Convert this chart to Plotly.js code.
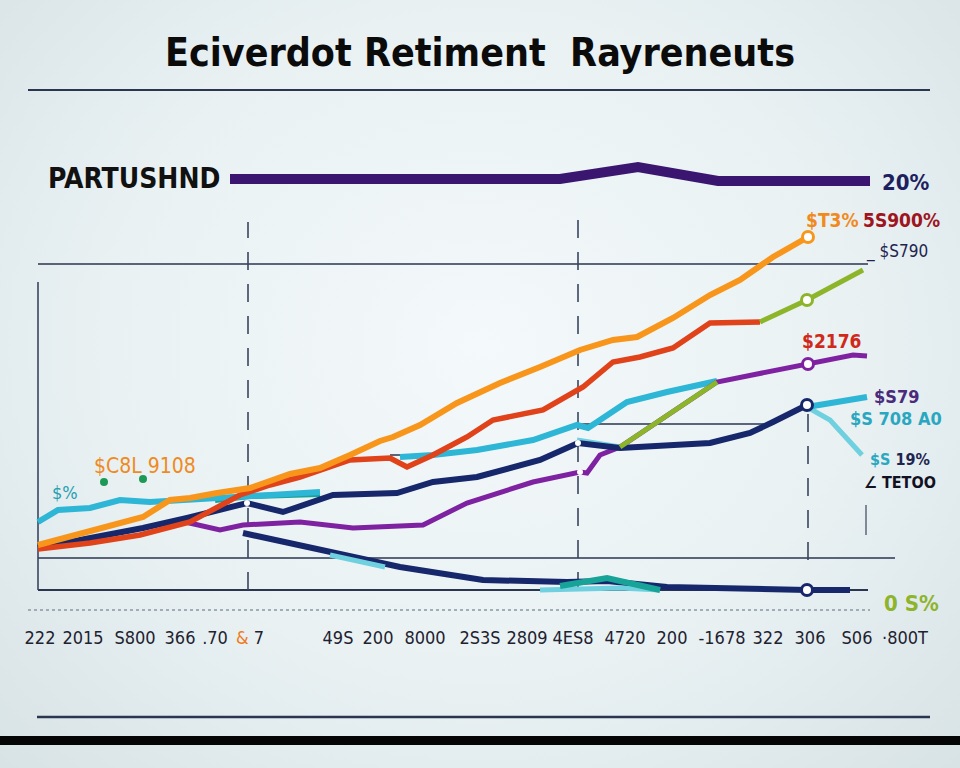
<!DOCTYPE html>
<html><head><meta charset="utf-8">
<script src="https://cdn.plot.ly/plotly-3.0.1.min.js"></script>
<style>
html,body{margin:0;padding:0;}
body{width:960px;height:768px;overflow:hidden;background:radial-gradient(ellipse at 50% 45%, #f4f9fb 0%, #e9f1f3 55%, #d8e3e5 100%);}
#chart{width:960px;height:768px;}
</style></head><body><div id="chart"></div>
<script>
// ---- data (x: period position, y: value) ----
const tickVals = [4.0, 8.3, 13.5, 18.0, 21.5, 25.0, 33.8, 37.8, 42.5, 48.0, 52.7, 57.3, 62.5, 67.2, 72.2, 76.8, 81.0, 85.7, 90.5];
const tickText = ["222", "2015", "S800", "366", ".70", "<span style='color:#f07a20'>&amp;</span> 7", "49S", "200", "8000", "2S3S", "2809", "4ES8", "4720", "200", "-1678", "322", "306", "S06", "·800T"];

const orangeX = [3.8, 10, 14.3, 17, 19, 21.7, 25, 29, 32, 35, 38, 39.3, 42, 45.7, 50, 54, 58, 61.3, 63.7, 67.3, 71, 74, 77.3, 80.8];
const orangeY = [11.25, 15.5, 18.25, 22.5, 23, 24.25, 25.5, 29, 30.5, 33.75, 37.25, 38.25, 41.25, 46.75, 51.75, 55.75, 60, 62.5, 63.25, 68, 73.75, 77.5, 83.25, 88.25];

const redX = [3.8, 9, 14, 19, 24, 27, 30, 35, 39, 40.7, 43.3, 46.7, 49.3, 54.3, 58.3, 61.3, 64, 67.3, 71, 76];
const redY = [10.25, 11.75, 13.75, 17, 23.75, 26.25, 28.25, 32.5, 33, 30.75, 33.75, 38.25, 42.5, 45, 50.75, 57, 58.25, 60.5, 66.75, 67];

const greenX = [62, 71.7, null, 76, 80.7, 86.3];
const greenY = [35.75, 52, null, 67, 72.5, 80];

const purpleX = [18.5, 22, 24.3, 30, 35.3, 38.3, 42.3, 46.7, 53.3, 58, 58.7, 60, 62, 71.7, 76.7, 80.8, 85.3, 86.7];
const purpleY = [17, 15, 16.25, 17, 15.5, 15.75, 16.25, 21.75, 27, 29.5, 29.25, 33.75, 35.75, 52, 54.5, 56.5, 58.75, 58.5];

const cyanX = [3.8, 5.8, 9, 12, 15, 18, 24, 32, null, 40, 43.3, 47.7, 53.3, 57.7, 58.8, 60, 62.7, 66.7, 71.7, null, 80.7, 86.7];
const cyanY = [17, 20, 20.5, 22.5, 22, 22.5, 23.25, 24.5, null, 33.25, 33.75, 35, 37.5, 41.25, 40.5, 42.5, 47, 49.5, 52.25, null, 45.75, 48.25];

const lightCyanX = [57.7, 62, null, 80.7, 83, 86.2, null, 33, 38.5, null, 54, 62, 66];
const lightCyanY = [37.5, 35.75, null, 45.75, 42.5, 33.75, null, 8.75, 5.75, null, 0, 0.5, 0];

const navyX = [3.8, 8.3, 14.3, 18.7, 24.7, 28.3, 32, 33.3, 39.7, 43.3, 47.7, 54, 57.8, 62, 71, 75, 77.3, 80.7];
const navyY = [10.5, 12.5, 15.5, 18, 21.75, 19.5, 22.5, 23.75, 24.25, 27, 28.25, 32.5, 36.75, 35.5, 36.75, 39.25, 42, 46.25];

const navyLowX = [24.3, 32, 35, 38.3, 40, 48.3, 56.7, 60.7, 64, 66.7, 80.7, 85];
const navyLowY = [14.25, 10, 8.25, 6.75, 5.75, 2.5, 2, 2.25, 1.25, 0.75, 0, 0];

const tealX = [21.5, 25, 32, null, 56, 60.7, 66];
const tealY = [22.5, 23.5, 24, null, 1, 3, 0];

const partX = [23, 56, 63.8, 71.8, 87];
const partY = [102.75, 102.75, 105.75, 102.25, 102.25];

const dotX = [10.4, 14.3];
const dotY = [27, 27.75];

// ---- styling ----
const FONT = '"DejaVu Sans Condensed", "Liberation Sans Narrow", "DejaVu Sans", sans-serif';
const C = {orange:'#f8961c', red:'#e0421a', green:'#8db52a', purple:'#7e22a2', cyan:'#2db6d5',
  lcyan:'#6fd0df', navy:'#16286b', teal:'#17a398', part:'#3b1670', ink:'#2a3550'};

function line(x, y, color, width, extra) {
  return Object.assign({type:'scatter', mode:'lines', x:x, y:y, hoverinfo:'skip',
    line:{color:color, width:width, shape:'linear'}, connectgaps:false}, extra || {});
}
function ring(x, y, color) {
  return {type:'scatter', mode:'markers', x:x, y:y, hoverinfo:'skip',
    marker:{symbol:'circle', size:11, color:'#ffffff', line:{color:color, width:3}}};
}
const last = a => a[a.length - 1];

const traces = [
  line(partX, partY, C.part, 10),
  line(navyLowX, navyLowY, C.navy, 6),
  line(lightCyanX, lightCyanY, C.lcyan, 5),
  line(tealX, tealY, C.teal, 6),
  line(cyanX, cyanY, C.cyan, 6),
  line(purpleX, purpleY, C.purple, 5),
  line(navyX, navyY, C.navy, 6),
  line(redX, redY, C.red, 5.5),
  line(orangeX, orangeY, C.orange, 6),
  line(greenX, greenY, C.green, 5),
  ring([last(orangeX)], [last(orangeY)], C.orange),
  ring([greenX[4]], [greenY[4]], C.green),
  ring([purpleX[15]], [purpleY[15]], C.purple),
  ring([last(navyX)], [last(navyY)], C.navy),
  ring([navyLowX[10]], [navyLowY[10]], C.navy),
  {type:'scatter', mode:'markers', x:[navyX[4], navyX[12], purpleX[9]], y:[navyY[4], navyY[12], purpleY[9]],
    hoverinfo:'skip', marker:{size:6, color:'#ffffff'}},
  {type:'scatter', mode:'markers', x:dotX, y:dotY, hoverinfo:'skip', marker:{size:8, color:'#1c9a55'}}
];

function hline(y, x0, x1, w, extra) {
  return Object.assign({type:'line', xref:'x', yref:'y', x0:x0, x1:x1, y0:y, y1:y,
    line:{color:C.ink, width:w}, layer:'below'}, extra || {});
}
function vline(x, y0, y1, dash, w) {
  return {type:'line', xref:'x', yref:'y', x0:x, x1:x, y0:y0, y1:y1,
    line:{color:'#3a4560', width:w || 1.6, dash:dash || 'solid'}, layer:'below'};
}
const shapes = [
  hline(125, 2.8, 93, 2.2),
  hline(81.5, 3.8, 86.8, 1.6),
  hline(41.5, 58, 77.2, 1.6),
  hline(33.75, 39, 44, 1.6),
  hline(8, 3.8, 89.5, 1.6),
  hline(0, 3.8, 86.8, 2),
  hline(-5, 2.8, 87, 1.4, {line:{color:'#8a96a6', width:1.4, dash:'dot'}}),
  vline(3.8, 0, 77, 'solid', 1.6),
  vline(24.8, 0, 92, '18px,14px'),
  vline(57.8, 0, 94.25, '18px,14px'),
  vline(80.8, 7.5, 45, '18px,14px'),
  vline(86.6, 13.75, 21.25, 'solid', 1.2),
  {type:'line', xref:'paper', yref:'paper', x0:37/960, x1:930/960, y0:-0.1472, y1:-0.1472, line:{color:C.ink, width:2.5}},
  {type:'rect', xref:'paper', yref:'paper', x0:0, x1:1, y0:-0.192, y1:-0.1776, fillcolor:'#050505', line:{width:0}}
];

function lab(text, x, y, color, size, weight) {
  return {text:text, x:x, y:y, xref:'x', yref:'y', showarrow:false,
    xanchor:'center', yanchor:'middle', font:{family:FONT, size:size, color:color, weight:(weight || 700)}};
}
const annotations = [
  lab('PARTUSHND', 13.4, 103, '#111111', 28),
  lab('20%', 90.6, 102, '#1e1f5e', 22),
  lab('$T3%', 83.2, 92.5, '#f08a1e', 19),
  lab('5S900%', 90.1, 92.5, '#9e1420', 19),
  lab('_ $S790', 89.7, 84.75, '#1e2450', 17, 400),
  lab('$2176', 83.1, 62.25, '#d0281a', 19),
  lab('$S79', 89.6, 48.5, '#4a2a7a', 18),
  lab('$S 708 A0', 89.6, 43, '#2aa7c0', 18),
  lab("<span style='color:#2aa8bf'>$S</span> 19%", 90, 32.6, '#1e2450', 16),
  lab('∠ TETOO', 90, 26.8, '#111122', 16),
  lab('0 S%', 91.1, -3.25, '#8db42a', 22),
  lab('$%', 6.5, 24.5, '#23a0b0', 18, 400),
  lab('$C8L 9108', 14.5, 31, '#f08a1e', 21, 400)
];

const layout = {
  width:960, height:768,
  paper_bgcolor:'rgba(0,0,0,0)', plot_bgcolor:'rgba(0,0,0,0)',
  margin:{l:0, r:0, t:0, b:143},
  showlegend:false,
  title:{text:'Eciverdot Retiment  Rayreneuts', x:0.5, xanchor:'center', y:0.932, yanchor:'middle',
    font:{family:FONT, size:39, color:'#0b0b0b', weight:700}},
  xaxis:{range:[0, 96], showgrid:false, zeroline:false, showline:false, ticks:'',
    tickmode:'array', tickvals:tickVals, ticktext:tickText, tickangle:0,
    tickfont:{family:FONT, size:18, color:'#1e2230'}, fixedrange:true},
  yaxis:{range:[-8.75, 147.5], visible:false, fixedrange:true},
  shapes:shapes,
  annotations:annotations
};

Plotly.newPlot('chart', traces, layout, {staticPlot:true, displayModeBar:false});
</script></body></html>
